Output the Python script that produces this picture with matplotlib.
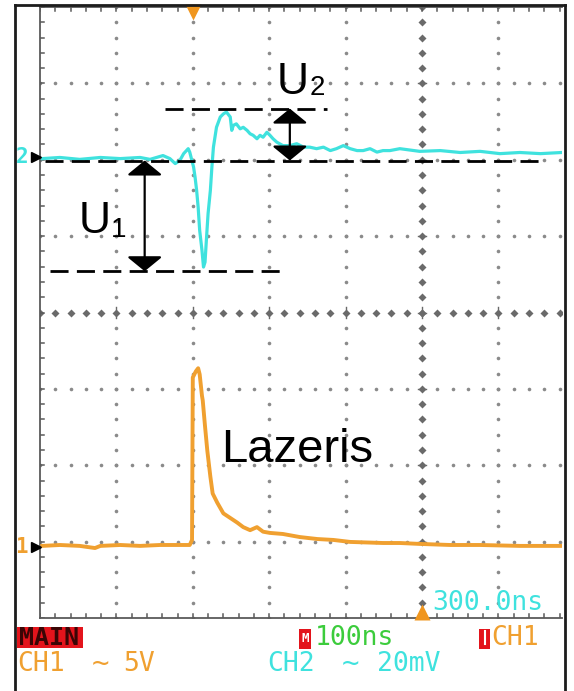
import numpy as np
import matplotlib
matplotlib.use('Agg')
import matplotlib.pyplot as plt
from matplotlib.lines import Line2D
from matplotlib.patches import Rectangle

plt.rcParams['lines.scale_dashes'] = False

W, H = 574, 691

# ---------------- data ----------------
# CH2 (cyan) trace: time [ns] and voltage [mV]
ch2_t = [3, 26, 52, 79, 105, 131, 144, 161, 170, 177, 183, 188, 194, 196, 201, 203,
         205, 207, 209, 212, 214, 216, 218, 220, 223, 225, 227, 231, 236, 240, 244,
         249, 251, 253, 257, 262, 266, 271, 275, 279, 284, 288, 292, 297, 301, 305,
         310, 318, 327, 336, 345, 353, 362, 371, 380, 388, 397, 406, 415, 423, 432,
         441, 449, 458, 471, 497, 524, 550, 576, 602, 628, 655, 683]
ch2_mv = [-0.3, 0.0, -0.5, 0.0, -0.3, 0.0, -0.5, 0.5, -0.3, -1.6, -0.8, 1.0, 2.3, 1.4,
          -2.5, -5.2, -8.6, -13.0, -19.1, -24.3, -28.7, -27.4, -20.9, -14.7, -8.6,
          -2.5, 2.7, 7.9, 10.6, 11.4, 11.9, 10.6, 7.1, 8.4, 8.8, 7.5, 7.9, 7.1, 6.2,
          5.8, 4.9, 5.8, 5.3, 6.6, 5.8, 4.9, 4.0, 3.1, 3.1, 3.6, 2.7, 2.7, 2.3, 2.7,
          1.8, 2.3, 3.1, 2.3, 1.8, 1.8, 2.3, 1.4, 1.8, 1.8, 2.3, 1.6, 1.8, 1.3, 1.6,
          1.0, 1.3, 1.0, 1.3]

# CH1 (orange) laser trace: time [ns] and voltage [V]
ch1_t = [3, 26, 52, 72, 79, 105, 131, 157, 183, 196, 199, 200, 204, 207, 209, 212,
         213, 216, 219, 223, 226, 232, 240, 249, 258, 266, 275, 284, 292, 301, 318,
         340, 363, 384, 406, 449, 471, 497, 537, 576, 628, 683]
ch1_v = [0.07, 0.13, 0.07, -0.07, 0.07, 0.13, 0.07, 0.13, 0.13, 0.13, 0.46, 11.1,
         11.5, 11.7, 11.3, 9.9, 9.6, 7.9, 6.3, 4.6, 3.5, 2.9, 2.2, 1.9, 1.6, 1.3,
         1.1, 1.3, 1.0, 0.92, 0.85, 0.65, 0.52, 0.46, 0.33, 0.26, 0.26, 0.20, 0.13,
         0.13, 0.07, 0.07]

# cursor levels on CH2 [mV]
u_base = -0.8
u_min = -29.8
u_max = 12.8

time_per_div = 100     # ns/div
ch2_per_div = 20       # mV/div
ch1_per_div = 5        # V/div
ch2_offset = 6.03      # div
ch1_offset = 0.93      # div
trigger_t = 200        # ns
center_t = 500         # ns

cyan = '#3FE2DE'
orange = '#F0A030'
green = '#3CCC3C'
red = '#E3141C'

# ---------------- figure ----------------
fig = plt.figure(figsize=(W / 100, H / 100), dpi=100)
fig.patch.set_facecolor('white')


def fx(x):
    return x / W


def fy(y):
    return 1 - y / H


px_per_div = 76.4
ax = fig.add_axes([fx(40), fy(618), 522 / W, 611 / H])
xmax = 522 / px_per_div * time_per_div
ax.set_xlim(0, xmax)
ax.set_ylim(0, 8)
ax.axis('off')

# grid: dotted lines
gcol = '#8a8a8a'
tt = np.arange(0, xmax, time_per_div / 5)
for yy in [1, 2, 3, 5, 6, 7]:
    ax.plot(tt, np.full_like(tt, yy), ls='none', marker='o', ms=2.6, color=gcol, mec='none')
yy_d = np.arange(0, 8.01, 0.2)
for tv in [100, 200, 300, 400, 600]:
    ax.plot(np.full_like(yy_d, tv), yy_d, ls='none', marker='o', ms=2.6, color=gcol, mec='none')
# center lines (bold dots)
ccol = '#6a6a6a'
ax.plot(tt, np.full_like(tt, 4.0), ls='none', marker='D', ms=3.8, color=ccol, mec='none')
ax.plot(np.full_like(yy_d, center_t), yy_d, ls='none', marker='D', ms=3.8, color=ccol, mec='none')
for tv in [100, 200, 300, 400, 500, 600]:
    ax.plot([tv, tv], [3.93, 4.07], color=ccol, lw=1.0)
for yv in range(1, 8):
    ax.plot([center_t - 5, center_t + 5], [yv, yv], color=ccol, lw=1.0)

# border with ticks
bcol = '#5a5a5a'
ax.plot([0, 0], [0, 8], color=bcol, lw=1.3, clip_on=False)
ax.plot([0, xmax], [8, 8], color=bcol, lw=1.3, clip_on=False)
ax.plot([0, xmax], [0, 0], color=bcol, lw=1.3, clip_on=False)
tk = 4 / px_per_div
for yv in yy_d:
    ax.plot([0, tk * time_per_div], [yv, yv], color=bcol, lw=1.1)
for tv in tt:
    ax.plot([tv, tv], [8, 8 - tk], color=bcol, lw=1.1)
    ax.plot([tv, tv], [0, tk], color=bcol, lw=1.1)

# traces
ch2_y = ch2_offset + np.array(ch2_mv) / ch2_per_div
ch1_y = ch1_offset + np.array(ch1_v) / ch1_per_div
ax.plot(ch2_t, ch2_y, color=cyan, lw=2.3, solid_joinstyle='round', zorder=5)
ax.plot(ch1_t, ch1_y, color=orange, lw=2.8, solid_joinstyle='round', zorder=5)

# cursor dashed lines
def lvl(mv):
    return ch2_offset + mv / ch2_per_div

dash = (0, (13, 6))
ax.plot([164, 376], [lvl(u_max)] * 2, color='black', lw=2.0, ls=dash, zorder=6)
ax.plot([7, 655], [lvl(u_base)] * 2, color='black', lw=2.0, ls=dash, zorder=6)
ax.plot([13, 314], [lvl(u_min)] * 2, color='black', lw=2.0, ls=dash, zorder=6)

astyle = '<|-|>,head_length=0.45,head_width=0.55'
ax.annotate('', xy=(137, lvl(u_min)), xytext=(137, lvl(u_base)),
            arrowprops=dict(arrowstyle=astyle, color='black', lw=1.6,
                            mutation_scale=20, shrinkA=0, shrinkB=0), zorder=7)
ax.annotate('', xy=(327, lvl(u_base)), xytext=(327, lvl(u_max)),
            arrowprops=dict(arrowstyle=astyle, color='black', lw=1.6,
                            mutation_scale=20, shrinkA=0, shrinkB=0), zorder=7)

# markers: trigger position and center
ax.plot([trigger_t], [7.93], marker='v', ms=11, color='#F0961E', mec='none', clip_on=False, zorder=8)
ax.plot([center_t], [0.08], marker='^', ms=11, color='#F0961E', mec='none', clip_on=False, zorder=8)
# channel ground markers
mk_t = -5.5
ax.plot([mk_t], [ch2_offset], marker='>', ms=7, color='black', clip_on=False, zorder=8)
ax.plot([mk_t], [ch1_offset], marker='>', ms=7, color='black', clip_on=False, zorder=8)

# ---------------- annotation text ----------------
sans = ['Liberation Sans', 'DejaVu Sans']
fig.text(fx(79), fy(233), 'U', fontsize=32, family=sans, va='baseline', ha='left')
fig.text(fx(111), fy(237), '1', fontsize=20, family=sans, va='baseline', ha='left')
fig.text(fx(277), fy(94), 'U', fontsize=32, family=sans, va='baseline', ha='left')
fig.text(fx(310), fy(95), '2', fontsize=20, family=sans, va='baseline', ha='left')
fig.text(fx(221), fy(462), 'Lazeris', fontsize=34, family=sans, va='baseline', ha='left')

mono = ['DejaVu Sans Mono']
fig.text(fx(22), fy(157), '2', fontsize=15, family=mono, weight='bold', color=cyan,
         va='center', ha='center')
fig.text(fx(21), fy(547), '1', fontsize=15, family=mono, weight='bold', color=orange,
         va='center', ha='center')

fig.text(fx(432), fy(603), '300.0ns', fontsize=19, family=mono, color=cyan, va='center', ha='left')

# status bar
fig.add_artist(Rectangle((fx(17), fy(648)), 66 / W, 21 / H, transform=fig.transFigure,
                         facecolor=red, edgecolor='none'))
fig.text(fx(19), fy(638), 'MAIN', fontsize=18, family=mono, weight='bold', color='#3a0505',
         va='center', ha='left')
fig.add_artist(Rectangle((fx(299), fy(649)), 12 / W, 20 / H, transform=fig.transFigure,
                         facecolor=red, edgecolor='none'))
fig.text(fx(305), fy(639), 'M', fontsize=9, family=mono, weight='bold', color='white',
         va='center', ha='center')
fig.text(fx(315), fy(638), '100ns', fontsize=19, family=mono, color=green, va='center', ha='left')
fig.add_artist(Rectangle((fx(479), fy(649)), 11 / W, 20 / H, transform=fig.transFigure,
                         facecolor=red, edgecolor='none'))
fig.add_artist(Line2D([fx(484.5)] * 2, [fy(631), fy(644)], transform=fig.transFigure,
                      color='white', lw=1.5))
fig.text(fx(491), fy(638), 'CH1', fontsize=19, family=mono, color=orange, va='center', ha='left')

fig.text(fx(17), fy(664), 'CH1', fontsize=19, family=mono, color=orange, va='center', ha='left')
fig.text(fx(92), fy(664), '~', fontsize=21, family=mono, color=orange, va='center', ha='left')
fig.text(fx(123), fy(664), '5V', fontsize=19, family=mono, color=orange, va='center', ha='left')
fig.text(fx(267), fy(664), 'CH2', fontsize=19, family=mono, color=cyan, va='center', ha='left')
fig.text(fx(342), fy(664), '~', fontsize=21, family=mono, color=cyan, va='center', ha='left')
fig.text(fx(377), fy(664), '20mV', fontsize=19, family=mono, color=cyan, va='center', ha='left')

# outer frame
fcol = '#1c1c1c'
for xs, ys in [([15, 15], [5, 691]), ([15, 565], [5, 5]), ([565, 565], [5, 691])]:
    fig.add_artist(Line2D([fx(v) for v in xs], [fy(v) for v in ys], transform=fig.transFigure,
                          color=fcol, lw=2.0))

fig.savefig('out.png', dpi=100)
